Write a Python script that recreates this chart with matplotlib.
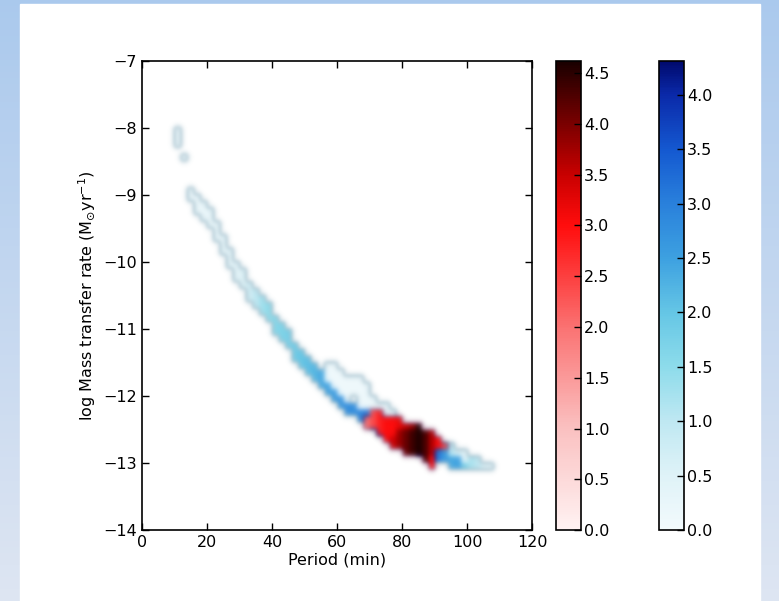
import numpy as np
import matplotlib
matplotlib.use("Agg")
import matplotlib.pyplot as plt
from matplotlib.colors import LinearSegmentedColormap, Normalize
from matplotlib.patches import Rectangle

# grid of the 2D histograms (period in min, log mass transfer rate)
period_edges = np.arange(0, 122, 2)
mdot_edges = np.round(np.arange(-14.0, -6.95, 0.1), 2)

# blue population: bin left edge (min), lower / upper edge (dex), value
blue_p = [10, 12,
          14, 16, 18, 20, 22, 24, 26, 28, 30, 32, 34, 36, 38, 40, 42, 44, 46, 48,
          50, 52, 54, 56, 58, 60, 62, 64, 66, 68, 70, 72, 74, 76, 78, 80, 82, 84,
          86, 88, 90, 92, 92, 94, 94, 96, 96, 98, 98, 100, 102, 104, 106,
          56, 58, 60, 62, 64, 66, 68, 70, 72, 74, 76]
blue_lo = [-8.3, -8.5,
           -9.1, -9.3, -9.4, -9.5, -9.7, -9.9, -10.1, -10.3, -10.4, -10.6, -10.7,
           -10.8, -10.9, -11.1, -11.2, -11.3, -11.5, -11.6, -11.7, -11.8, -11.9,
           -12.0, -12.1, -12.2, -12.3, -12.3, -12.4, -12.4, -12.5, -12.6, -12.6,
           -12.7, -12.7, -12.8, -12.8, -12.9, -12.9, -13.0, -13.0, -13.0, -12.8,
           -13.1, -12.9, -13.1, -12.9, -13.1, -13.0, -13.1, -13.1, -13.1, -13.1,
           -11.8, -11.9, -12.0, -12.1, -12.0, -12.2, -12.2, -12.3, -12.3, -12.4, -12.4]
blue_hi = [-8.0, -8.4,
           -8.9, -9.0, -9.1, -9.2, -9.4, -9.6, -9.8, -10.0, -10.1, -10.3, -10.4,
           -10.5, -10.6, -10.8, -10.9, -11.0, -11.2, -11.3, -11.4, -11.5, -11.6,
           -11.8, -11.9, -12.0, -12.1, -12.1, -12.2, -12.2, -12.3, -12.3, -12.4,
           -12.4, -12.5, -12.5, -12.5, -12.6, -12.6, -12.6, -12.7, -12.8, -12.7,
           -12.9, -12.7, -12.9, -12.8, -13.0, -12.8, -12.9, -12.9, -13.0, -13.0,
           -11.5, -11.5, -11.6, -11.7, -11.7, -11.7, -11.8, -12.0, -12.1, -12.1, -12.2]
blue_val = [0.1, 0.1,
            0.15, 0.15, 0.2, 0.2, 0.2, 0.25, 0.3, 0.35, 0.5, 0.7, 1.0, 1.3, 1.5, 1.6,
            1.7, 1.8, 1.9, 2.0, 2.1, 2.2, 2.4, 2.5, 2.6, 2.7, 2.8, 2.8, 2.9, 3.0,
            3.2, 3.4, 3.6, 3.8, 4.0, 4.2, 4.3, 4.3, 4.0, 3.6, 3.0, 2.6, 1.5, 2.4,
            1.0, 2.5, 0.6, 1.8, 0.3, 1.2, 1.0, 0.5, 0.3,
            0.1, 0.1, 0.1, 0.1, 0.1, 0.1, 0.15, 0.15, 0.2, 0.2, 0.2]

# red population
red_p = [68, 70, 72, 74, 76, 76, 78, 78, 80, 80, 82, 82, 84, 86, 88, 88, 90, 92]
red_lo = [-12.5, -12.5, -12.6, -12.7, -12.8, -12.6, -12.8, -12.5, -12.9, -12.5,
          -12.9, -12.5, -12.9, -13.0, -13.1, -12.9, -12.8, -12.8]
red_hi = [-12.3, -12.2, -12.2, -12.3, -12.6, -12.3, -12.5, -12.3, -12.5, -12.4,
          -12.5, -12.4, -12.4, -12.5, -12.9, -12.5, -12.6, -12.7]
red_val = [2.0, 2.4, 2.8, 3.0, 3.4, 3.0, 3.8, 3.2, 4.1, 3.5, 4.4, 3.8, 4.6, 4.3,
           3.0, 3.6, 3.0, 2.4]

red_max = 4.62
blue_max = 4.31
red_ticks = np.arange(0, 4.51, 0.5)
blue_ticks = np.arange(0, 4.01, 0.5)


def build_grid(p, lo, hi, val):
    grid = np.full((len(mdot_edges) - 1, len(period_edges) - 1), np.nan)
    for pp, l, h, v in zip(p, lo, hi, val):
        col = int(round(pp / 2))
        r0 = int(round((l + 14) / 0.1))
        r1 = int(round((h + 14) / 0.1))
        grid[r0:r1, col] = v
    return np.ma.masked_invalid(grid)


red_cmap = LinearSegmentedColormap.from_list("reds", [
    (0.0, (1.0, 0.95, 0.95)), (0.22, (0.98, 0.75, 0.75)), (0.43, (0.98, 0.45, 0.45)),
    (0.65, (1.0, 0.05, 0.05)), (0.76, (0.78, 0.0, 0.0)), (0.87, (0.47, 0.0, 0.0)),
    (1.0, (0.1, 0.0, 0.0))])
red_cmap.set_bad((0.35, 0.0, 0.25, 0.0))

blue_cmap = LinearSegmentedColormap.from_list("blues", [
    (0.0, (0.95, 0.98, 0.99)), (0.12, (0.87, 0.95, 0.97)), (0.23, (0.75, 0.91, 0.95)),
    (0.35, (0.55, 0.86, 0.92)), (0.46, (0.4, 0.78, 0.9)), (0.58, (0.24, 0.63, 0.88)),
    (0.7, (0.16, 0.5, 0.86)), (0.81, (0.08, 0.35, 0.82)), (0.93, (0.04, 0.16, 0.66)),
    (1.0, (0.0, 0.04, 0.43))])
blue_cmap.set_bad((0.3, 0.52, 0.62, 0.0))

fig = plt.figure(figsize=(7.79, 6.01), dpi=100)

# slide background
bg = fig.add_axes([0, 0, 1, 1], zorder=-10)
grad = np.linspace(0, 1, 100).reshape(-1, 1)
bg_cmap = LinearSegmentedColormap.from_list("bg", [(0.67, 0.79, 0.93), (0.87, 0.9, 0.95)])
bg.imshow(grad, cmap=bg_cmap, aspect="auto", extent=[0, 1, 1, 0], origin="upper")
bg.add_patch(Rectangle((20 / 779, 0), 740 / 779, 597 / 601, color="white",
                       transform=bg.transAxes))
bg.set_xlim(0, 1)
bg.set_ylim(1, 0)
bg.axis("off")

ax = fig.add_axes([0.1823, 0.1181, 0.5007, 0.7804])
extent = [period_edges[0], period_edges[-1], mdot_edges[0], mdot_edges[-1]]

blue_grid = build_grid(blue_p, blue_lo, blue_hi, blue_val)
red_grid = build_grid(red_p, red_lo, red_hi, red_val)

im_blue = ax.imshow(blue_grid, cmap=blue_cmap, norm=Normalize(0, blue_max),
                    extent=extent, origin="lower", aspect="auto",
                    interpolation="gaussian", interpolation_stage="rgba")
im_red = ax.imshow(red_grid, cmap=red_cmap, norm=Normalize(0, red_max),
                   extent=extent, origin="lower", aspect="auto",
                   interpolation="gaussian", interpolation_stage="rgba")

ax.set_xlim(0, 120)
ax.set_ylim(-14, -7)
ax.set_xticks(np.arange(0, 121, 20))
ax.set_yticks(np.arange(-14, -6, 1))
ax.tick_params(direction="in", top=True, right=True, length=5, width=1, labelsize=11.5)
for s in ax.spines.values():
    s.set_linewidth(1.2)
ax.set_xlabel("Period (min)", fontsize=11.5, labelpad=2)
ax.set_ylabel(r"log Mass transfer rate (M$_{\odot}$yr$^{-1}$)", fontsize=11.5, labelpad=4)

cax1 = fig.add_axes([0.7137, 0.1181, 0.0321, 0.7804])
cb1 = fig.colorbar(im_red, cax=cax1, ticks=red_ticks, format="%.1f")
cax2 = fig.add_axes([0.846, 0.1181, 0.0321, 0.7804])
cb2 = fig.colorbar(im_blue, cax=cax2, ticks=blue_ticks, format="%.1f")
for cb in (cb1, cb2):
    cb.ax.tick_params(direction="in", length=5, width=1, labelsize=11.5, pad=2)
    cb.outline.set_linewidth(1.2)

fig.savefig("out.png", dpi=100)
